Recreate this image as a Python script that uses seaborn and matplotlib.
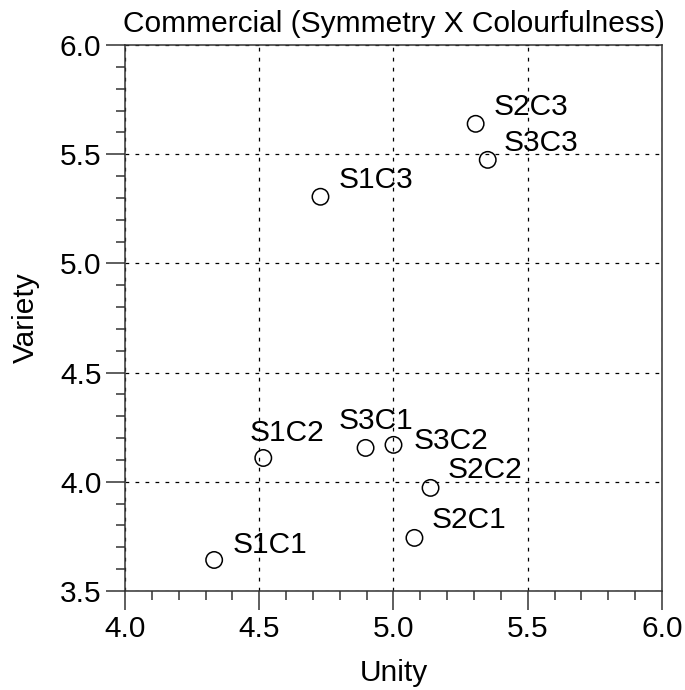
import matplotlib
matplotlib.use("Agg")
import matplotlib.pyplot as plt
from matplotlib.ticker import MultipleLocator
import seaborn as sns
import pandas as pd

labels = ["S1C1", "S1C2", "S1C3", "S2C1", "S2C2", "S2C3", "S3C1", "S3C2", "S3C3"]
unity = [4.332, 4.515, 4.728, 5.078, 5.138, 5.306, 4.896, 5.000, 5.351]
variety = [3.642, 4.109, 5.305, 3.743, 3.972, 5.639, 4.155, 4.169, 5.474]

# label offsets in pixels (dx to text left edge, dy to text center)
label_dx = [18, -14, 18, 17, 17, 18, -27, 20, 16]
label_dy = [15, 25, 17, 18, 18, 17, 27, 4, 17]

sns.set_style("white")
plt.rcParams['font.family'] = ['Liberation Sans', 'DejaVu Sans']
plt.rcParams['text.color'] = 'black'
plt.rcParams['axes.labelcolor'] = 'black'
plt.rcParams['xtick.color'] = 'black'
plt.rcParams['ytick.color'] = 'black'

FS = 21.5

fig = plt.figure(figsize=(6.85, 6.9), dpi=100)
ax = fig.add_axes([0.1825, 0.1435, 0.9664 - 0.1825, 0.9348 - 0.1435])

df = pd.DataFrame({"Unity": unity, "Variety": variety, "label": labels})
sns.scatterplot(data=df, x="Unity", y="Variety", ax=ax, s=140,
                facecolor="none", edgecolor="black", linewidth=1.1, zorder=3)

for lab, x, y, dx, dy in zip(labels, unity, variety, label_dx, label_dy):
    ax.annotate(lab, (x, y), xytext=(dx * 0.72, dy * 0.72), textcoords="offset points",
                ha="left", va="center", fontsize=FS, color="black")

ax.set_xlim(4.0, 6.0)
ax.set_ylim(3.5, 6.0)
ax.xaxis.set_minor_locator(MultipleLocator(0.1))
ax.yaxis.set_minor_locator(MultipleLocator(0.1))
ax.set_xticks([4.0, 4.5, 5.0, 5.5, 6.0])
ax.set_xticklabels(["4.0", "4.5", "5.0", "5.5", "6.0"])
ax.set_yticks([3.5, 4.0, 4.5, 5.0, 5.5, 6.0])
ax.set_yticklabels(["3.5", "4.0", "4.5", "5.0", "5.5", "6.0"])

ax.tick_params(which="major", direction="out", length=14, width=1.1, color="#333333",
               labelsize=FS, labelcolor="black", pad=3, bottom=True, left=True)
ax.tick_params(which="minor", direction="out", length=6.5, width=1.1, color="#333333",
               bottom=True, left=True)

ax.grid(True, which="major", linestyle=(0, (3, 5)), color="black", linewidth=0.9)
for sp in ax.spines.values():
    sp.set_color("#333333")
    sp.set_linewidth(1.1)
    sp.set_visible(True)

ax.set_xlabel("Unity", fontsize=FS, labelpad=12, color="black")
ax.set_ylabel("Variety", fontsize=FS, labelpad=14, color="black")
ax.set_title("Commercial (Symmetry X Colourfulness)", fontsize=FS, pad=9, color="black")

fig.savefig("out.png", dpi=100)
